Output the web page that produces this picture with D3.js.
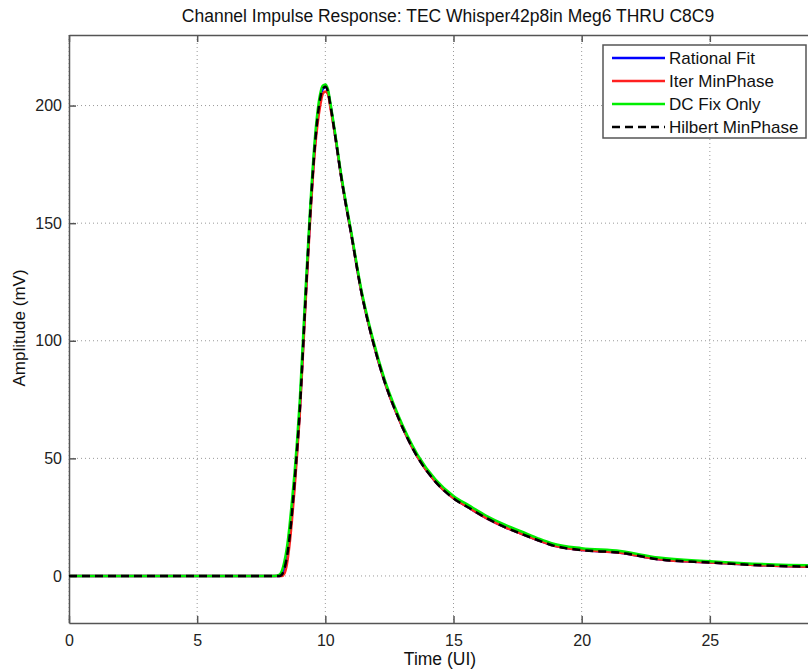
<!DOCTYPE html>
<html><head><meta charset="utf-8">
<script src="https://cdn.jsdelivr.net/npm/d3@7/dist/d3.min.js"></script>
<style>
body{margin:0;background:#fff;}
svg{display:block;font-family:"Liberation Sans",Arial,sans-serif;}
</style></head>
<body><div id="chart"></div>
<script>
const chartTitle = "Channel Impulse Response: TEC Whisper42p8in Meg6 THRU C8C9";
const xLabel = "Time (UI)";
const yLabel = "Amplitude (mV)";
const xTicks = [0, 5, 10, 15, 20, 25];
const yTicks = [0, 50, 100, 150, 200];
const seriesNames = ["Rational Fit", "Iter MinPhase", "DC Fix Only", "Hilbert MinPhase"];

const timeUI = [0, 8.0, 8.2, 8.3, 8.4, 8.5, 8.6, 8.7, 8.8, 8.9, 9.0, 9.2, 9.4, 9.6, 9.8, 9.9, 10.0, 10.1, 10.2, 10.4, 10.6, 10.8, 11.0, 11.4, 11.85, 12.3, 12.8, 13.6, 14.3, 15.0, 15.6, 16.3, 17.0, 17.7, 18.3, 18.9, 20.0, 21.5, 23.0, 25.0, 27.5, 30.0];

const rationalFit  = [0, 0, 0, 0.5, 3, 8, 16, 27, 40, 54, 70, 112, 152, 184, 203, 207, 208, 206, 200, 186, 171, 158, 146, 121, 100, 83, 68.5, 50.5, 40, 33, 29, 24.5, 20.8, 17.7, 15.2, 12.9, 11.0, 9.9, 7.1, 5.7, 4.3, 3.8];
const iterMinPhase = [0, 0, 0, 0, 1, 5, 13, 24, 37, 52, 68, 110, 150, 182, 200, 205, 206, 205, 199, 186, 171, 158, 146, 121, 100, 83, 68.5, 50.5, 40, 33, 29, 24.5, 20.8, 17.7, 15.2, 12.9, 11.0, 9.9, 7.1, 5.7, 4.3, 3.8];
const dcFixOnly    = [0, 0, 0.5, 2, 6, 12, 21, 32, 44, 58, 74, 116, 155, 187, 205, 208.5, 209, 207, 201, 187, 172, 159, 147, 122, 101, 84, 69.5, 51.5, 41, 34, 30, 25.5, 21.8, 18.7, 16.0, 13.7, 11.8, 10.6, 7.8, 6.3, 4.9, 4.4];
const hilbertMin   = [0, 0, 0, 0.5, 3, 8, 16, 27, 40, 54, 70, 112, 152, 184, 203, 207, 208, 206, 200, 186, 171, 158, 146, 121, 100, 83, 68.5, 50.5, 40, 33, 29, 24.5, 20.8, 17.7, 15.2, 12.9, 11.0, 9.9, 7.1, 5.7, 4.3, 3.8];

const W = 808, H = 670;
const m = {left: 69, top: 35, right: 838, bottom: 623};
const svg = d3.select("#chart").append("svg").attr("width", W).attr("height", H);
svg.append("rect").attr("width", W).attr("height", H).attr("fill", "#fff");

const x = d3.scaleLinear().domain([0, 30]).range([m.left, m.right]);
const y = d3.scaleLinear().domain([-20, 230]).range([m.bottom, m.top]);

svg.append("defs").append("clipPath").attr("id", "clip")
  .append("rect").attr("x", m.left).attr("y", m.top).attr("width", m.right - m.left).attr("height", m.bottom - m.top);

// grid
const grid = svg.append("g").attr("stroke", "#9a9a9a").attr("stroke-width", 1).attr("stroke-dasharray", "1,3");
xTicks.forEach(t => grid.append("line").attr("x1", x(t)).attr("x2", x(t)).attr("y1", m.top).attr("y2", m.bottom));
yTicks.forEach(t => grid.append("line").attr("x1", m.left).attr("x2", m.right).attr("y1", y(t)).attr("y2", y(t)));

// axes (MATLAB style: ticks inward, box)
const axisColor = "#555";
const gx = svg.append("g").attr("transform", `translate(0,${m.bottom})`)
  .call(d3.axisBottom(x).tickValues(xTicks).tickSizeInner(-7).tickSizeOuter(0).tickPadding(12));
const gxt = svg.append("g").attr("transform", `translate(0,${m.top})`)
  .call(d3.axisTop(x).tickValues(xTicks).tickSizeInner(-7).tickSizeOuter(0).tickFormat(""));
const gy = svg.append("g").attr("transform", `translate(${m.left},0)`)
  .call(d3.axisLeft(y).tickValues(yTicks).tickSizeInner(-7).tickSizeOuter(0).tickPadding(7));
const gyr = svg.append("g").attr("transform", `translate(${m.right},0)`)
  .call(d3.axisRight(y).tickValues(yTicks).tickSizeInner(-7).tickSizeOuter(0).tickFormat(""));
[gx, gxt, gy, gyr].forEach(g => {
  g.select(".domain").attr("stroke", axisColor).attr("stroke-width", 1.5);
  g.selectAll(".tick line").attr("stroke", axisColor).attr("stroke-width", 1.5);
  g.selectAll(".tick text").attr("fill", "#222").attr("font-size", 16).attr("font-family", '"Liberation Sans",Arial,sans-serif');
});

// lines
const line = d3.line().x((d, i) => x(timeUI[i])).y(d => y(d)).curve(d3.curveMonotoneX);
const plot = svg.append("g").attr("clip-path", "url(#clip)").attr("fill", "none");
const styles = [
  {data: rationalFit, color: "#0000ff", dash: null},
  {data: iterMinPhase, color: "#ff2020", dash: null},
  {data: dcFixOnly, color: "#00ee00", dash: null},
  {data: hilbertMin, color: "#000", dash: "8,5"}
];
styles.forEach(s => {
  plot.append("path").attr("d", line(s.data)).attr("stroke", s.color).attr("stroke-width", 2.5)
    .attr("stroke-dasharray", s.dash).attr("stroke-linejoin", "round");
});

// legend
const lg = svg.append("g");
lg.append("rect").attr("x", 603).attr("y", 45).attr("width", 203).attr("height", 93)
  .attr("fill", "#fff").attr("stroke", axisColor).attr("stroke-width", 1.5);
styles.forEach((s, i) => {
  const yy = 58 + i * 23;
  lg.append("line").attr("x1", 612).attr("x2", 665).attr("y1", yy).attr("y2", yy)
    .attr("stroke", s.color).attr("stroke-width", 2.5).attr("stroke-dasharray", s.dash);
  lg.append("text").attr("x", 669).attr("y", yy + 6).attr("font-size", 17).attr("fill", "#111").text(seriesNames[i]);
});

// labels
svg.append("text").attr("x", 448).attr("y", 22).attr("text-anchor", "middle").attr("font-size", 17.5).attr("fill", "#111").text(chartTitle);
svg.append("text").attr("x", 440).attr("y", 665).attr("text-anchor", "middle").attr("font-size", 17.5).attr("fill", "#111").text(xLabel);
svg.append("text").attr("transform", "translate(25,328) rotate(-90)").attr("text-anchor", "middle").attr("font-size", 17).attr("fill", "#111").text(yLabel);
</script></body></html>
